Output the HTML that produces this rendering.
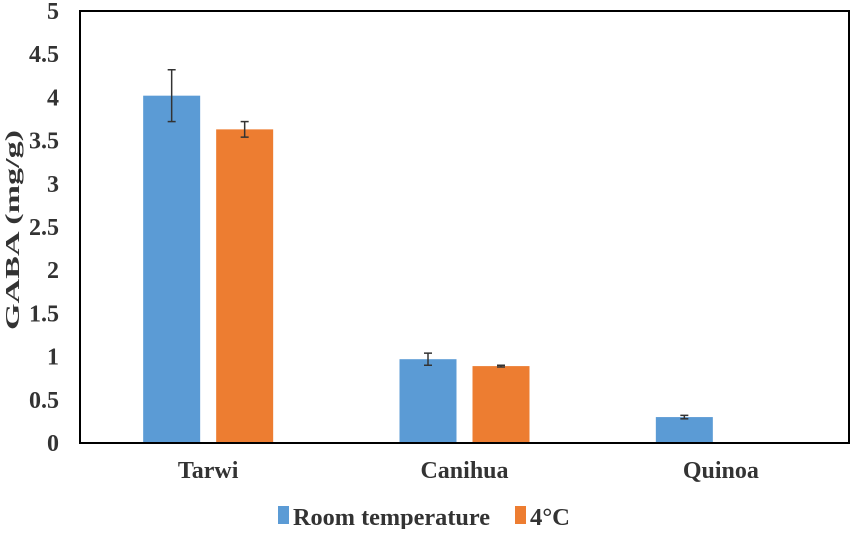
<!DOCTYPE html>
<html><head><meta charset="utf-8"><style>
body{margin:0;background:#fff}
svg text{font-family:"Liberation Serif",serif;font-weight:bold;fill:#333}
</style></head><body>
<svg width="851" height="529" id="c">
<text x="19" y="230" font-size="20" text-anchor="middle" textLength="200" lengthAdjust="spacingAndGlyphs" transform="rotate(-90 19 230)">GABA (mg/g)</text>
<g id="yt"></g><g id="bars"></g><g id="xt"></g>
<rect x="80" y="11" width="769" height="432" fill="none" stroke="#000" stroke-width="2"/>
<g>
<rect x="278" y="506" width="11" height="18" fill="#5b9bd5"/>
<text x="293" y="525" font-size="24" textLength="197" lengthAdjust="spacingAndGlyphs">Room temperature</text>
<rect x="515" y="506" width="11" height="18" fill="#ed7d31"/>
<text x="530" y="525" font-size="24" textLength="40" lengthAdjust="spacingAndGlyphs">4°C</text>
</g>
</svg>
<script>
const categories=["Tarwi","Canihua","Quinoa"];
const roomVals=[4.02,0.97,0.30];
const roomErr=[0.30,0.07,0.02];
const coldVals=[3.63,0.89,null];
const coldErr=[0.09,0.01,null];
const yTicks=["0","0.5","1","1.5","2","2.5","3","3.5","4","4.5","5"];
const NS="http://www.w3.org/2000/svg";
const y0=443,yTop=11,yMax=5,x0=80,pw=769;
const Y=v=>y0-(v/yMax)*(y0-yTop);
const cw=pw/categories.length;
const CX=i=>x0+cw*(i+0.5);
function mk(t,a,p){const e=document.createElementNS(NS,t);for(const k in a)e.setAttribute(k,a[k]);p.appendChild(e);return e;}
const yt=document.getElementById('yt'),bars=document.getElementById('bars'),xt=document.getElementById('xt');
yTicks.forEach(t=>{const e=mk('text',{x:59,y:Y(parseFloat(t))+8,'font-size':24,'text-anchor':'end'},yt);e.textContent=t;

});
const bw=57,gap=16;
function bar(i,v,err,off,col,name){
 if(v==null)return;
 const x=CX(i)+off;
 const r=mk('rect',{x:x,y:Y(v),width:bw,height:y0-Y(v),fill:col},bars);
 
 
 const cx=x+bw/2,g=mk('g',{stroke:'#333','stroke-width':1.5},bars);
 
 
 mk('line',{x1:cx,x2:cx,y1:Y(v+err),y2:Y(v-err)},g);
 mk('line',{x1:cx-4,x2:cx+4,y1:Y(v+err),y2:Y(v+err)},g);
 mk('line',{x1:cx-4,x2:cx+4,y1:Y(v-err),y2:Y(v-err)},g);
}
categories.forEach((c,i)=>{
 bar(i,roomVals[i],roomErr[i],-bw-gap/2,'#5b9bd5','bar-room');
 bar(i,coldVals[i],coldErr[i],gap/2,'#ed7d31','bar-4c');
 const t=mk('text',{x:CX(i),y:478,'font-size':24,'text-anchor':'middle'},xt);t.textContent=c;
 
 
});
</script>
</body></html>
